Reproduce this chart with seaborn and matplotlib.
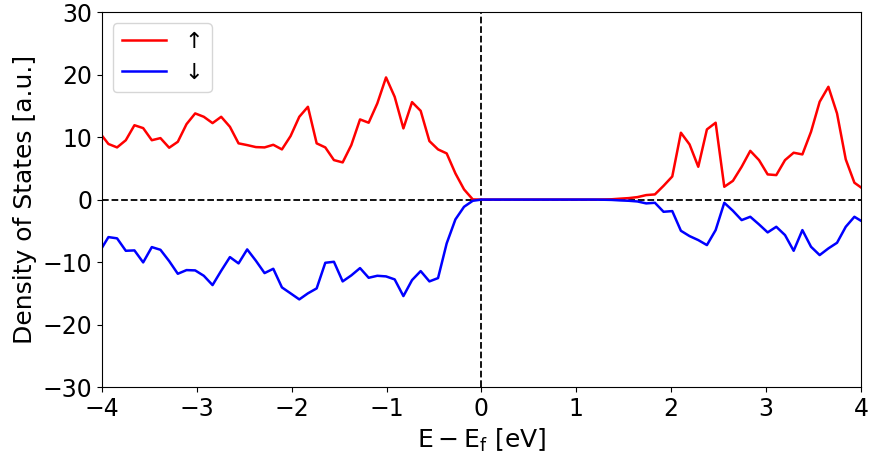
import matplotlib
matplotlib.use("Agg")
import matplotlib.pyplot as plt
import seaborn as sns
import pandas as pd
import numpy as np

# Energy grid (eV), relative to Fermi level
energies = [
    -4.022, -3.930, -3.839, -3.747, -3.656, -3.564, -3.473, -3.382, -3.290, -3.199,
    -3.107, -3.016, -2.925, -2.833, -2.742, -2.650, -2.559, -2.468, -2.376, -2.285,
    -2.193, -2.102, -2.011, -1.919, -1.828, -1.736, -1.645, -1.554, -1.462, -1.371,
    -1.279, -1.188, -1.097, -1.005, -0.914, -0.822, -0.731, -0.640, -0.548, -0.457,
    -0.366, -0.274, -0.183, -0.091, 0.000, 0.091, 0.183, 0.274, 0.366, 0.457,
    0.548, 0.640, 0.731, 0.822, 0.914, 1.005, 1.097, 1.188, 1.279, 1.371,
    1.462, 1.554, 1.645, 1.736, 1.828, 1.919, 2.011, 2.102, 2.193, 2.285,
    2.376, 2.468, 2.559, 2.650, 2.742, 2.833, 2.925, 3.016, 3.107, 3.199,
    3.290, 3.382, 3.473, 3.564, 3.656, 3.747, 3.839, 3.930, 4.022,
]

dos_up = [
    10.7, 8.9, 8.35, 9.5, 11.9, 11.44, 9.5, 9.84, 8.3, 9.25,
    12.08, 13.79, 13.25, 12.24, 13.25, 11.65, 9.0, 8.72, 8.4, 8.35,
    8.77, 8.03, 10.16, 13.25, 14.85, 9.0, 8.35, 6.32, 5.95, 8.72,
    12.83, 12.3, 15.39, 19.55, 16.45, 11.39, 15.6, 14.2, 9.36, 8.03,
    7.39, 4.19, 1.63, 0.03, 0.0, 0.0, 0.0, 0.0, 0.0, 0.0,
    0.0, 0.0, 0.0, 0.0, 0.0, 0.0, 0.0, 0.0, 0.02, 0.05,
    0.15, 0.24, 0.4, 0.72, 0.83, 2.2, 3.7, 10.7, 8.83, 5.25,
    11.23, 12.3, 2.05, 3.0, 5.25, 7.8, 6.32, 4.03, 3.92, 6.32,
    7.5, 7.23, 10.85, 15.65, 18.05, 13.79, 6.43, 2.7, 1.7,
]

dos_down = [
    -8.3, -6.0, -6.2, -8.19, -8.13, -10.05, -7.6, -8.03, -9.84, -11.87,
    -11.28, -11.33, -12.19, -13.68, -11.39, -9.2, -10.21, -7.97, -9.79, -11.76,
    -11.07, -14.05, -15.0, -15.97, -15.0, -14.21, -10.11, -9.95, -13.09, -12.13,
    -10.96, -12.51, -12.19, -12.29, -12.77, -15.44, -12.88, -11.44, -13.09, -12.56,
    -7.01, -3.17, -1.15, -0.19, 0.0, 0.0, 0.0, 0.0, 0.0, 0.0,
    0.0, 0.0, 0.0, 0.0, 0.0, 0.0, 0.0, 0.0, -0.02, -0.05,
    -0.13, -0.19, -0.3, -0.61, -0.51, -1.95, -1.84, -4.99, -5.84, -6.48,
    -7.28, -4.88, -0.51, -1.79, -3.28, -2.75, -3.97, -5.25, -4.35, -5.68,
    -8.19, -4.88, -7.55, -8.88, -7.81, -6.91, -4.35, -2.75, -3.6,
]

spin_labels = ["\u2191", "\u2193"]
x_ticks = [-4, -3, -2, -1, 0, 1, 2, 3, 4]
y_ticks = [-30, -20, -10, 0, 10, 20, 30]

df = pd.concat([
    pd.DataFrame({"E": energies, "DOS": dos_up, "spin": spin_labels[0]}),
    pd.DataFrame({"E": energies, "DOS": dos_down, "spin": spin_labels[1]}),
], ignore_index=True)

fig = plt.figure(figsize=(8.7, 4.57), dpi=100)
ax = fig.add_axes([0.117, 0.153, 0.8727, 0.8205])

sns.lineplot(data=df, x="E", y="DOS", hue="spin",
             palette={spin_labels[0]: "red", spin_labels[1]: "blue"},
             estimator=None, sort=False, linewidth=1.8, ax=ax)

ax.axhline(0, color="black", linestyle="--", linewidth=1.3, zorder=1)
ax.axvline(0, color="black", linestyle="--", linewidth=1.3, zorder=1)

ax.set_xlim(-4, 4)
ax.set_ylim(-30, 30)
ax.set_xticks(x_ticks)
ax.set_yticks(y_ticks)
ax.tick_params(labelsize=17)
ax.set_xlabel(r"$\mathrm{E-E_f}$ [eV]", fontsize=18)
ax.set_ylabel("Density of States [a.u.]", fontsize=18)

leg = ax.get_legend()
handles = leg.legend_handles
labels = [t.get_text() for t in leg.get_texts()]
ax.legend(handles, labels, loc="upper left", fontsize=16)

fig.savefig("out.png", dpi=100)
